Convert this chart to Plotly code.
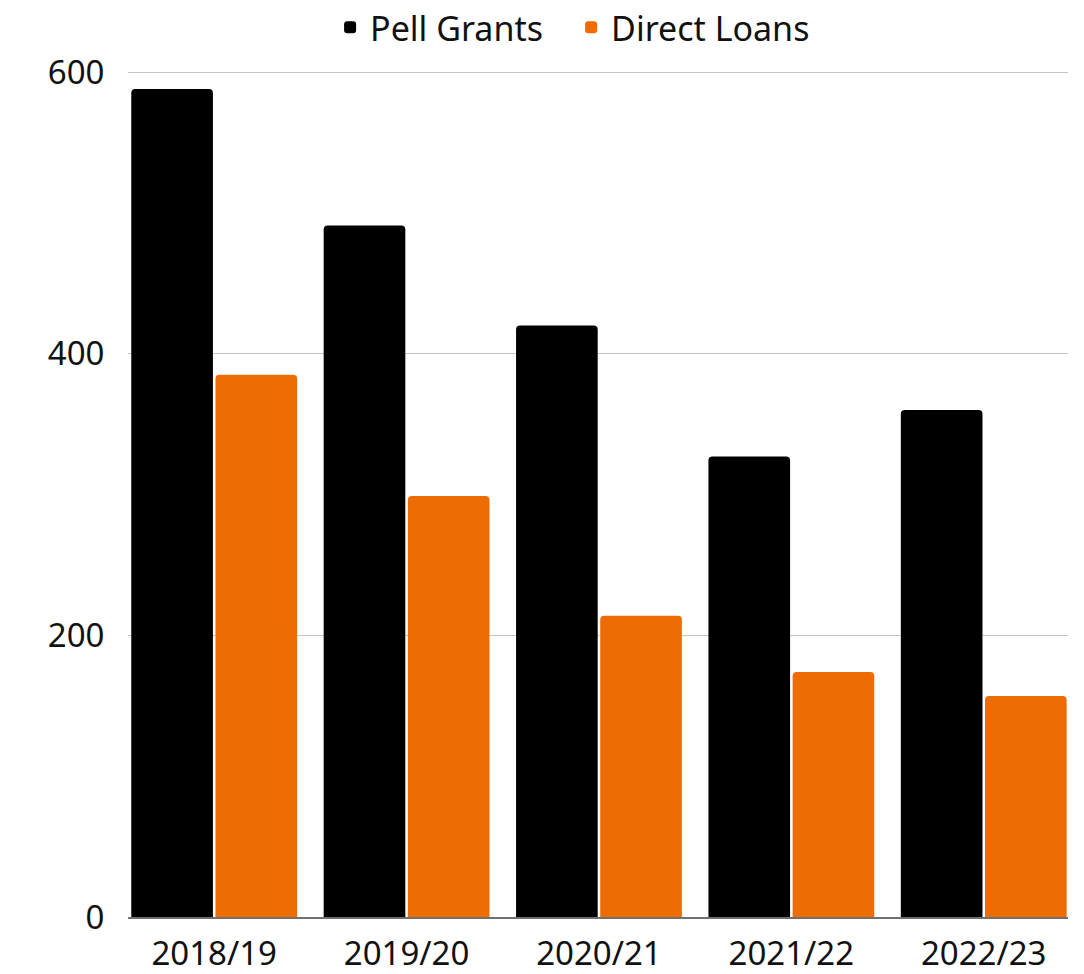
import plotly.graph_objects as go

categories = ["2018/19", "2019/20", "2020/21", "2021/22", "2022/23"]
pell_grants = [588, 491, 420, 327, 360]
direct_loans = [385, 299, 214, 174, 157]
y_ticks = [0, 200, 400, 600]

font_family = "Noto Sans"

fig = go.Figure()
fig.add_trace(go.Bar(name="Pell Grants", x=categories, y=pell_grants,
                     marker=dict(color="#000000", line=dict(width=0))))
fig.add_trace(go.Bar(name="Direct Loans", x=categories, y=direct_loans,
                     marker=dict(color="#EE6C04", line=dict(width=0))))

fig.update_layout(
    width=1076, height=966,
    barmode="group", bargap=0.125, bargroupgap=0.03, barcornerradius=4,
    plot_bgcolor="white", paper_bgcolor="white",
    margin=dict(l=120, r=16, t=62, b=57, autoexpand=False),
    font=dict(family=font_family, size=33, color="#111111"),
    legend=dict(orientation="h", x=0.215, xanchor="left", y=1.05, yanchor="middle",
                font=dict(size=34), itemwidth=30, traceorder="normal",
                entrywidth=196, entrywidthmode="pixels", bgcolor="rgba(0,0,0,0)"),
    showlegend=True,
)
fig.update_xaxes(range=[-0.448, 4.438], showgrid=False, showline=True,
                 linecolor="#707070", linewidth=1.5, ticks="outside", ticklen=7,
                 tickcolor="rgba(0,0,0,0)", tickfont=dict(size=33))
fig.update_yaxes(range=[0, 601.5], tickvals=y_ticks, showgrid=True, gridcolor="#C4C4C4",
                 gridwidth=1.3, zeroline=False, showline=False, ticks="outside",
                 ticklen=16, tickcolor="rgba(0,0,0,0)", tickfont=dict(size=33))

fig.write_html("out.html")
